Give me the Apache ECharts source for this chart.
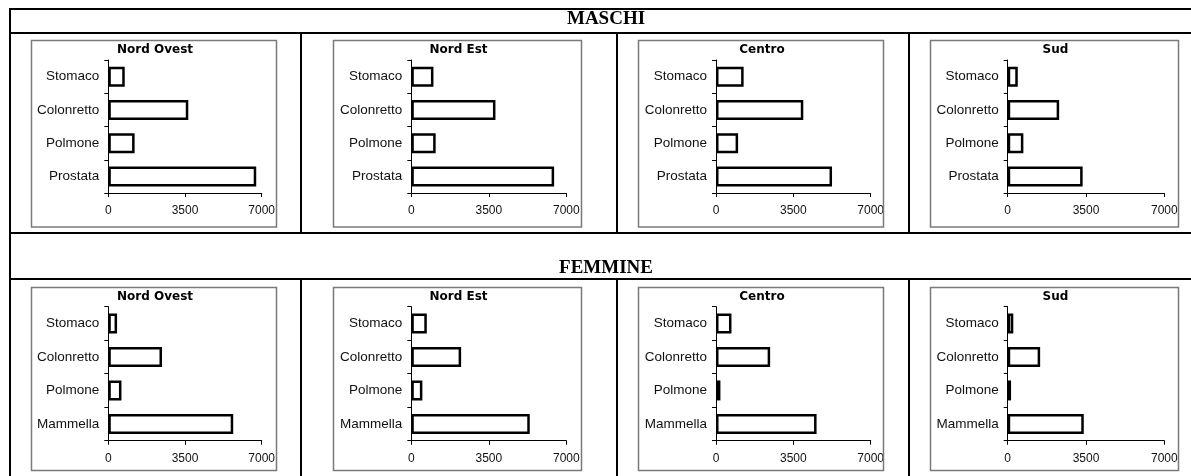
<!DOCTYPE html>
<html>
<head>
<meta charset="utf-8">
<title>Incidenza tumori per area geografica</title>
<script src="https://cdn.jsdelivr.net/npm/echarts@6/dist/echarts.min.js"></script>
<style>
  html, body { margin: 0; padding: 0; background: #fff; }
  #chart { width: 1191px; height: 476px; }
</style>
</head>
<body>
<div id="chart"></div>
<script>
// Areas and cancer sites
const regions = ['Nord Ovest', 'Nord Est', 'Centro', 'Sud'];
const maleSites = ['Stomaco', 'Colonretto', 'Polmone', 'Prostata'];
const femaleSites = ['Stomaco', 'Colonretto', 'Polmone', 'Mammella'];

// Cases per area, in the order of the site lists above
const maleNordOvest = [750, 3650, 1200, 6750];
const maleNordEst = [1000, 3800, 1100, 6450];
const maleCentro = [1250, 3950, 1000, 5250];
const maleSud = [450, 2300, 700, 3350];

const femaleNordOvest = [400, 2450, 600, 5700];
const femaleNordEst = [700, 2250, 500, 5350];
const femaleCentro = [700, 2450, 200, 4550];
const femaleSud = [250, 1450, 150, 3400];

// Value axis ticks
const xTicks = [0, 3500, 7000];

const groups = [
  { label: 'MASCHI', sites: maleSites, values: [maleNordOvest, maleNordEst, maleCentro, maleSud] },
  { label: 'FEMMINE', sites: femaleSites, values: [femaleNordOvest, femaleNordEst, femaleCentro, femaleSud] }
];

// ---- layout (pixels) ----
const colBox = [[31, 276], [333, 581], [638, 883], [930, 1178]];
const colAxis = [[108.3, 261.7], [411.3, 566.3], [716, 870.7], [1007.7, 1164.3]];
const rowBox = [[40, 226.5], [287, 470]];
const rowGrid = [[60, 193], [306.7, 440.7]];
const rowTitleY = [50, 296.7];
const headerY = [19.5, 268.3];
const headerX = 606;

const sansFont = '"Liberation Sans", Arial, sans-serif';
const serifFont = '"Liberation Serif", "Times New Roman", serif';

const grids = [], xAxes = [], yAxes = [], series = [], titles = [], graphics = [];

// table rules
const line = (x1, y1, x2, y2) => ({
  type: 'line', silent: true, z: 1,
  shape: { x1, y1, x2, y2 },
  style: { stroke: '#000', lineWidth: 2 }
});
graphics.push(line(9, 9, 1191, 9));
graphics.push(line(9, 33, 1191, 33));
graphics.push(line(9, 233, 1191, 233));
graphics.push(line(9, 279, 1191, 279));
graphics.push(line(10, 8, 10, 476));
[301, 617, 909].forEach(x => {
  graphics.push(line(x, 33, x, 233));
  graphics.push(line(x, 279, x, 476));
});

groups.forEach((g, r) => {
  graphics.push({
    type: 'text', silent: true, z: 2,
    style: {
      text: g.label, x: headerX, y: headerY[r],
      font: 'bold 19px ' + serifFont,
      fill: '#000', align: 'center', verticalAlign: 'middle'
    }
  });

  regions.forEach((reg, c) => {
    const idx = grids.length;
    const [bl, br] = colBox[c];
    const [bt, bb] = rowBox[r];
    const [al, ar] = colAxis[c];
    const [gt, gb] = rowGrid[r];

    // panel frame
    graphics.push({
      type: 'rect', silent: true, z: 1,
      shape: { x: bl + 0.5, y: bt + 0.5, width: br - bl, height: bb - bt },
      style: { fill: 'none', stroke: '#7a7a7a', lineWidth: 1.5 }
    });

    titles.push({
      text: reg,
      left: (bl + br) / 2 + 1.5,
      top: rowTitleY[r] - 6,
      textAlign: 'center',
      padding: 0,
      textStyle: {
        fontFamily: '"DejaVu Sans", sans-serif',
        fontWeight: 'bold',
        fontSize: 12,
        color: '#000'
      }
    });

    grids.push({
      left: al, top: gt, width: ar - al, height: gb - gt,
      containLabel: false, outerBoundsMode: 'none', show: false
    });

    xAxes.push({
      gridIndex: idx,
      type: 'value',
      min: xTicks[0],
      max: xTicks[xTicks.length - 1],
      interval: xTicks[1] - xTicks[0],
      axisLine: { show: true, lineStyle: { color: '#000', width: 1 } },
      axisTick: { show: true, length: 4, lineStyle: { color: '#000', width: 1 } },
      splitLine: { show: false },
      axisLabel: {
        margin: 12, fontSize: 12, color: '#111', fontFamily: sansFont,
        showMinLabel: true, showMaxLabel: true,
        formatter: v => String(v)
      }
    });

    yAxes.push({
      gridIndex: idx,
      type: 'category',
      data: g.sites,
      inverse: true,
      axisLine: { show: true, lineStyle: { color: '#000', width: 1 } },
      axisTick: { show: true, length: 4, interval: 0, lineStyle: { color: '#000', width: 1 } },
      splitLine: { show: false },
      axisLabel: { margin: 9, fontSize: 13.5, color: '#111', fontFamily: sansFont, interval: 0 }
    });

    series.push({
      type: 'bar',
      name: g.label + ' ' + reg,
      xAxisIndex: idx,
      yAxisIndex: idx,
      data: g.values[c],
      barWidth: 20,
      itemStyle: { color: '#fff', borderColor: '#000', borderWidth: 2.5 },
      emphasis: { disabled: true }
    });
  });
});

const chart = echarts.init(document.getElementById('chart'), null, { renderer: 'canvas' });
chart.setOption({
  animation: false,
  backgroundColor: '#fff',
  title: titles,
  grid: grids,
  xAxis: xAxes,
  yAxis: yAxes,
  series: series,
  graphic: { elements: graphics }
});
</script>
</body>
</html>
